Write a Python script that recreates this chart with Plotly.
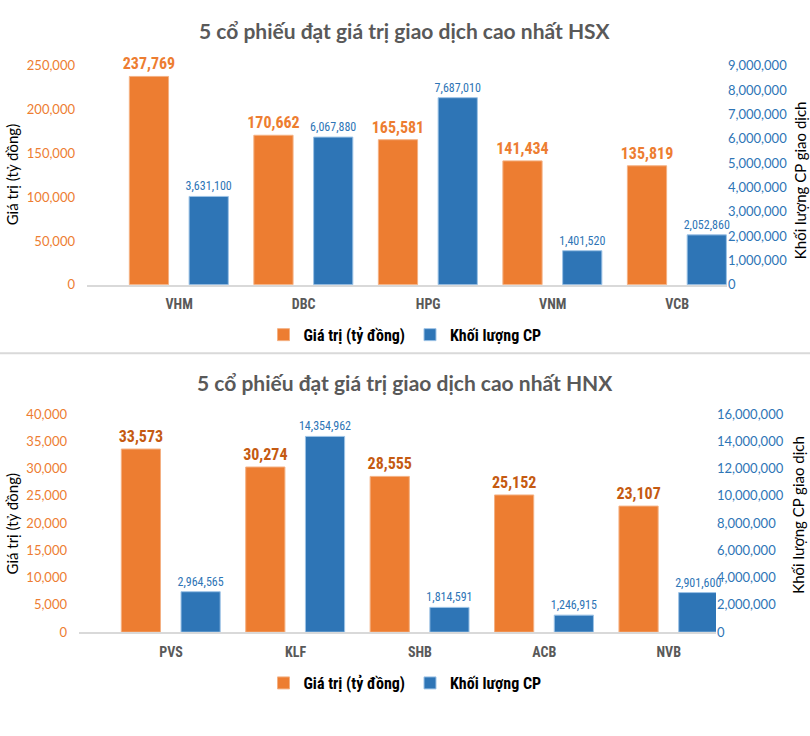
import plotly.graph_objects as go

# ---- data ----
hsx_codes = ["VHM", "DBC", "HPG", "VNM", "VCB"]
hsx_value = [237769, 170662, 165581, 141434, 135819]
hsx_volume = [3631100, 6067880, 7687010, 1401520, 2052860]

hnx_codes = ["PVS", "KLF", "SHB", "ACB", "NVB"]
hnx_value = [33573, 30274, 28555, 25152, 23107]
hnx_volume = [2964565, 14354962, 1814591, 1246915, 2901600]

title_hsx = "5 cổ phiếu đạt giá trị giao dịch cao nhất HSX"
title_hnx = "5 cổ phiếu đạt giá trị giao dịch cao nhất HNX"
name_value = "Giá trị (tỷ đồng)"
name_volume = "Khối lượng CP"
ytitle_left = "Giá trị (tỷ đồng)"
ytitle_right = "Khối lượng CP giao dịch"

ORANGE = "#ED7D31"
ORANGE_DARK = "#C55A11"
BLUE = "#2E75B6"
GRAY = "#595959"
W, H = 810, 736
NARROW = "Liberation Sans Narrow, Arial Narrow, Roboto Condensed, Liberation Sans"
BODY = "Lato, Open Sans, sans-serif"

def px_x(p):
    return p / W

def px_y(p):
    return 1 - p / H

fig = go.Figure()

BW = 0.315
common = dict(width=BW, textposition="outside", cliponaxis=False, constraintext="none")
# top chart
fig.add_trace(go.Bar(x=hsx_codes, y=hsx_value, name=name_value, xaxis="x", yaxis="y",
                     marker=dict(color=ORANGE, line=dict(color="#F4B183", width=1)),
                     offset=-0.4, text=[f"{v:,}" for v in hsx_value],
                     textfont=dict(family=NARROW, size=16, color=ORANGE, weight="bold"),
                     legend="legend", **common))
fig.add_trace(go.Bar(x=hsx_codes, y=hsx_volume, name=name_volume, xaxis="x", yaxis="y2",
                     marker=dict(color=BLUE, line=dict(color="#9DC3E6", width=1)),
                     offset=0.08, text=[f"{v:,}" for v in hsx_volume],
                     textfont=dict(family=NARROW, size=12, color=BLUE),
                     legend="legend", **common))
# bottom chart
fig.add_trace(go.Bar(x=hnx_codes, y=hnx_value, name=name_value, xaxis="x2", yaxis="y3",
                     marker=dict(color=ORANGE, line=dict(color="#F4B183", width=1)),
                     offset=-0.4, text=[f"{v:,}" for v in hnx_value],
                     textfont=dict(family=NARROW, size=16, color=ORANGE_DARK, weight="bold"),
                     legend="legend2", **common))
fig.add_trace(go.Bar(x=hnx_codes, y=hnx_volume, name=name_volume, xaxis="x2", yaxis="y4",
                     marker=dict(color=BLUE, line=dict(color="#9DC3E6", width=1)),
                     offset=0.08, text=[f"{v:,}" for v in hnx_volume],
                     textfont=dict(family=NARROW, size=12, color=BLUE),
                     legend="legend2", **common))

tickfont_x = dict(family=NARROW, size=14, color=GRAY, weight="bold")
left_font = dict(family=BODY, size=13, color=ORANGE)
right_font = dict(family=BODY, size=13, color=BLUE)

fig.update_layout(
    width=W, height=H,
    margin=dict(l=0, r=0, t=0, b=0),
    paper_bgcolor="white", plot_bgcolor="white",
    barmode="overlay",
    xaxis=dict(domain=[px_x(87), px_x(727)], anchor="y", range=[-0.74, 4.40],
               showline=True, linecolor="#D9D9D9", linewidth=1.5, ticks="",
               tickfont=tickfont_x, showgrid=False, ticklabelstandoff=6),
    yaxis=dict(domain=[px_y(283), px_y(59)], anchor="x", range=[0, 250000], dtick=50000,
               tickformat=",", tickfont=left_font, showgrid=False, zeroline=False,
               ticklabelstandoff=11),
    yaxis2=dict(domain=[px_y(283), px_y(59)], anchor="x", overlaying="y", side="right",
                range=[0, 9000000], dtick=1000000, tickformat=",", tickfont=right_font,
                showgrid=False, zeroline=False, ticklabelstandoff=0),
    xaxis2=dict(domain=[px_x(79), px_x(716)], anchor="y3", range=[-0.74, 4.38],
                showline=True, linecolor="#D9D9D9", linewidth=1.5, ticks="",
                tickfont=tickfont_x, showgrid=False, ticklabelstandoff=6),
    yaxis3=dict(domain=[px_y(638), px_y(415)], anchor="x2", range=[0, 40000], dtick=5000,
                tickformat=",", tickfont=left_font, showgrid=False, zeroline=False,
                ticklabelstandoff=11),
    yaxis4=dict(domain=[px_y(638), px_y(415)], anchor="x2", overlaying="y3", side="right",
                range=[0, 16000000], dtick=2000000, tickformat=",", tickfont=right_font,
                showgrid=False, zeroline=False, ticklabelstandoff=0),
    legend=dict(orientation="h", x=0.5, xanchor="center", y=px_y(334), yanchor="middle",
                font=dict(family=NARROW, size=16, color="black", weight="bold"),
                itemwidth=30, bgcolor="rgba(0,0,0,0)"),
    legend2=dict(orientation="h", x=0.5, xanchor="center", y=px_y(690), yanchor="middle",
                 font=dict(family=NARROW, size=16, color="black", weight="bold"),
                 itemwidth=30, bgcolor="rgba(0,0,0,0)"),
    showlegend=True,
)

title_font = dict(family=BODY, size=21, color=GRAY, weight="bold")
ann = [
    dict(text=title_hsx, x=0.5, y=px_y(23), font=title_font),
    dict(text=title_hnx, x=0.5, y=px_y(383), font=title_font),
    dict(text=ytitle_left, x=px_x(12), y=px_y(171), textangle=-90,
         font=dict(family=BODY, size=15, color="black")),
    dict(text=ytitle_right, x=px_x(800), y=px_y(176), textangle=-90,
         font=dict(family=BODY, size=15, color="black")),
    dict(text=ytitle_left, x=px_x(12), y=px_y(528), textangle=-90,
         font=dict(family=BODY, size=15, color="black")),
    dict(text=ytitle_right, x=px_x(798), y=px_y(518), textangle=-90,
         font=dict(family=BODY, size=15, color="black")),
]
for a in ann:
    a.update(xref="paper", yref="paper", showarrow=False, xanchor="center", yanchor="middle")
fig.update_layout(annotations=ann)

fig.add_shape(type="line", xref="paper", yref="paper", x0=0, x1=1,
              y0=px_y(353), y1=px_y(353), line=dict(color="#D9D9D9", width=2))

fig.write_html("out.html")
